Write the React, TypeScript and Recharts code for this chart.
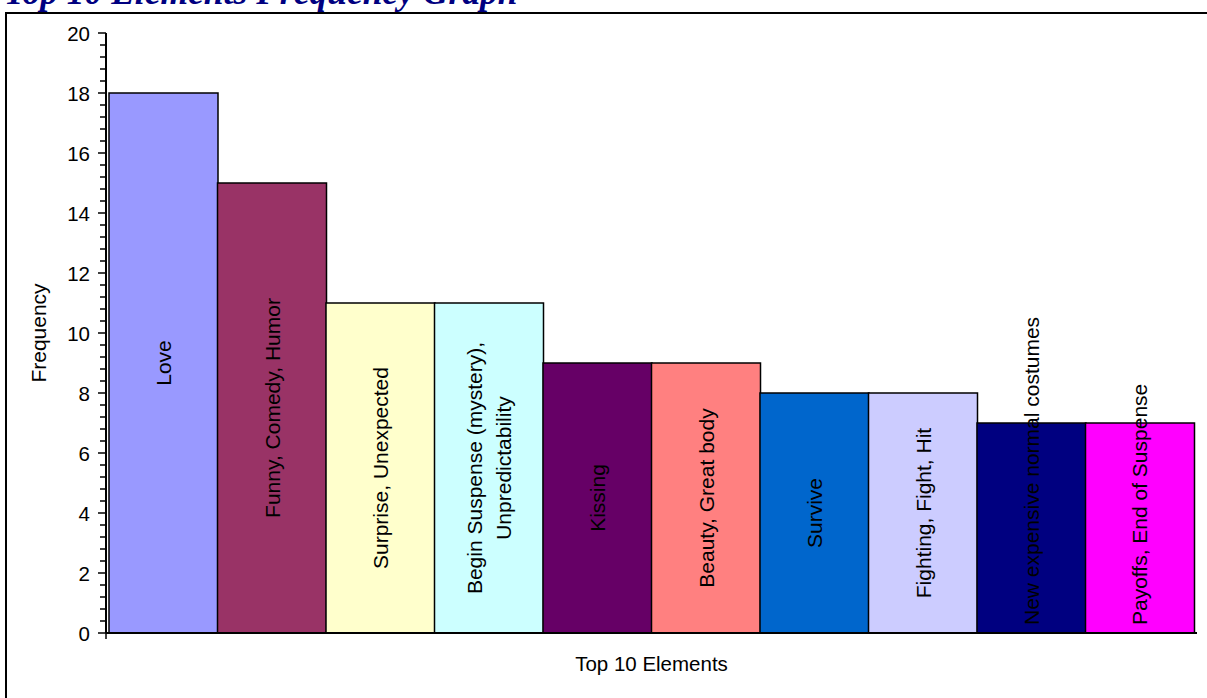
import React from "react";
import { BarChart, Bar, XAxis, YAxis, Cell, LabelList } from "recharts";

const categories = [
  "Love",
  "Funny, Comedy, Humor",
  "Surprise, Unexpected",
  "Begin Suspense (mystery),\nUnpredictability",
  "Kissing",
  "Beauty, Great body",
  "Survive",
  "Fighting, Fight, Hit",
  "New expensive normal costumes",
  "Payoffs, End of Suspense",
];
const frequency = [18, 15, 11, 11, 9, 9, 8, 8, 7, 7];
const barColors = [
  "#9999FF",
  "#993366",
  "#FFFFCC",
  "#CCFFFF",
  "#660066",
  "#FF8080",
  "#0066CC",
  "#CCCCFF",
  "#000080",
  "#FF00FF",
];
const yMajorTicks = [0, 2, 4, 6, 8, 10, 12, 14, 16, 18, 20];
const minorPerMajor = 5;

// every minor tick (0.4 apart) between the major ones
const yAllTicks = Array.from(
  { length: (yMajorTicks.length - 1) * minorPerMajor + 1 },
  (_, i) => Math.round((i * 2 * 10) / minorPerMajor) / 10
);

const data = categories.map((name, i) => ({ name, value: frequency[i] }));

const FONT = "'Liberation Sans', Arial, sans-serif";
const LABEL_SIZE = 21;

let ctx: CanvasRenderingContext2D | null = null;
const measure = (s: string, size: number) => {
  if (!ctx) ctx = document.createElement("canvas").getContext("2d");
  if (!ctx) return s.length * size * 0.5;
  ctx.font = `${size}px ${FONT}`;
  return ctx.measureText(s).width;
};

const BarLabel = (props: any) => {
  const vb = props.viewBox ?? props;
  const { x, y, width, height } = vb;
  const lines = String(props.value).split("\n");
  const len = Math.max(...lines.map((l) => measure(l, LABEL_SIZE)));
  const cx = x + width / 2;
  const bottom = y + height;
  // centred in the bar, but pushed up so it never runs past the bottom
  const cy = Math.min(y + height / 2, bottom - 8 - len / 2);
  const gap = 29;
  return (
    <g>
      {lines.map((l, i) => {
        const lx = cx + (i - (lines.length - 1) / 2) * gap;
        return (
          <text
            key={i}
            x={lx}
            y={cy}
            transform={`rotate(-90 ${lx} ${cy})`}
            textAnchor="middle"
            dominantBaseline="central"
            fontSize={LABEL_SIZE}
            fontFamily={FONT}
            fill="#000"
          >
            {l}
          </text>
        );
      })}
    </g>
  );
};

const YTick = (props: any) => {
  const { x, y, payload } = props;
  const v = payload.value;
  const major = yMajorTicks.includes(v);
  return (
    <g>
      <line x1={x - (major ? 8 : 6)} x2={x} y1={y} y2={y} stroke="#000" strokeWidth={1.5} />
      {v === 0 && <line x1={x} x2={x} y1={y} y2={y + 6} stroke="#000" strokeWidth={1.5} />}
      {major && (
        <text
          x={x - 16}
          y={y}
          textAnchor="end"
          dominantBaseline="central"
          fontSize={20.5}
          fontFamily={FONT}
          fill="#000"
        >
          {v}
        </text>
      )}
    </g>
  );
};

const EndTick = (props: any) => {
  const { x, y } = props;
  return <line x1={x} x2={x} y1={y} y2={y + 6} stroke="#000" strokeWidth={1.5} />;
};

const YTitle = (props: any) => {
  const vb = props.viewBox;
  const cx = vb.x + 38;
  const cy = vb.y + vb.height / 2;
  return (
    <text
      x={cx}
      y={cy}
      transform={`rotate(-90 ${cx} ${cy})`}
      textAnchor="middle"
      dominantBaseline="central"
      fontSize={21}
      fontFamily={FONT}
      fill="#000"
    >
      Frequency
    </text>
  );
};

const XTitle = (props: any) => {
  const vb = props.viewBox;
  return (
    <text
      x={vb.x + vb.width / 2}
      y={vb.y + 30}
      textAnchor="middle"
      dominantBaseline="central"
      fontSize={20.5}
      fontFamily={FONT}
      fill="#000"
    >
      Top 10 Elements
    </text>
  );
};

export default function App() {
  return (
    <div
      style={{
        position: "absolute",
        left: 0,
        top: 0,
        width: 1207,
        height: 698,
        overflow: "hidden",
        background: "#fff",
      }}
    >
      <div
        style={{
          position: "absolute",
          left: 4,
          top: -25,
          fontFamily: "'Liberation Serif', 'Times New Roman', serif",
          fontWeight: "bold",
          fontStyle: "italic",
          fontSize: 35.5,
          lineHeight: "35px",
          color: "#000080",
          whiteSpace: "nowrap",
        }}
      >
        Top 10 Elements Frequency Graph
      </div>
      <div
        style={{
          position: "absolute",
          left: 5,
          top: 12,
          width: 1300,
          height: 800,
          border: "2px solid #000",
        }}
      />
      <div style={{ position: "absolute", left: 0, top: 0 }}>
        <BarChart
          width={1207}
          height={698}
          data={data}
          margin={{ top: 33, right: 10, bottom: 0, left: 0 }}
          barCategoryGap={0}
        >
          <XAxis
            dataKey="name"
            height={65}
            padding={{ left: 3, right: 3 }}
            tick={false}
            tickLine={false}
            axisLine={{ stroke: "#000", strokeWidth: 2 }}
            label={{ content: XTitle }}
          />
          <YAxis
            width={106}
            domain={[0, 20]}
            ticks={yAllTicks}
            interval={0}
            tickSize={0}
            tickMargin={0}
            tickLine={false}
            tick={YTick}
            axisLine={{ stroke: "#000", strokeWidth: 2 }}
            label={{ content: YTitle }}
          />
          <YAxis
            yAxisId="right"
            orientation="right"
            width={0}
            domain={[0, 20]}
            ticks={[0]}
            tickSize={0}
            tickMargin={0}
            tickLine={false}
            axisLine={false}
            tick={EndTick}
          />
          <Bar dataKey="value" stroke="#000" strokeWidth={1.5} isAnimationActive={false}>
            {data.map((d, i) => (
              <Cell key={d.name} fill={barColors[i]} />
            ))}
            <LabelList dataKey="name" content={BarLabel} />
          </Bar>
        </BarChart>
      </div>
    </div>
  );
}
